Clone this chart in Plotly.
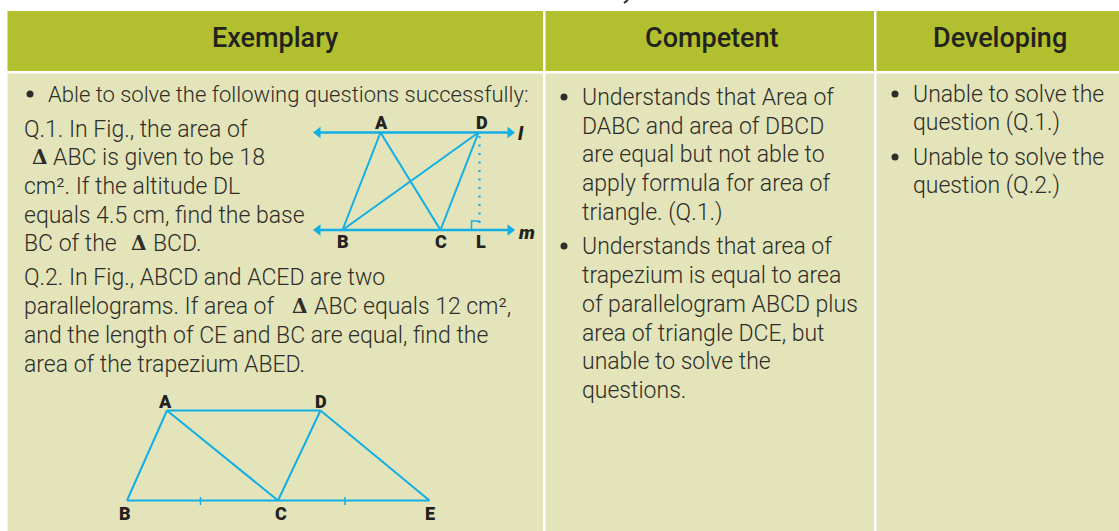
import plotly.graph_objects as go

WIDTH, HEIGHT = 1119, 531
HEADER_COLOR = "#B2C02F"
BODY_COLOR = "#E3E4B9"
TEXT_COLOR = "#2E2D29"
BLUE = "#12AEE6"
FONT = "Roboto"

# Table structure
col_edges = [(7.5, 543), (545.5, 874), (876.5, 1119)]
header_band = (11, 71)
body_band = (73.5, 531)
headers = ["Exemplary", "Competent", "Developing"]
header_centers = [275, 712, 1000]

# Table text: (text, left x, centre y)
col1_lines = [
    ("Able to solve the following questions successfully:", 46, 94),
    ("Q.1. In Fig., the area of", 22, 129),
    ("ABC is given to be 18", 51, 157),
    ("cm². If the altitude DL", 22, 186),
    ("equals 4.5 cm, find the base", 22, 215),
    ("BC of the", 22, 243),
    ("BCD.", 151, 243),
    ("Q.2. In Fig., ABCD and ACED are two", 22, 277),
    ("parallelograms. If area of", 22, 306),
    ("ABC equals 12 cm²,", 312, 306),
    ("and the length of CE and BC are equal, find the", 22, 335),
    ("area of the trapezium ABED.", 22, 364),
]
col2_lines = [
    ("Understands that Area of", 580, 97),
    ("DABC and area of DBCD", 580, 126),
    ("are equal but not able to", 580, 154),
    ("apply formula for area of", 580, 183),
    ("triangle. (Q.1.)", 580, 212),
    ("Understands that area of", 580, 246),
    ("trapezium is equal to area", 580, 275),
    ("of parallelogram ABCD plus", 580, 304),
    ("area of triangle DCE, but", 580, 333),
    ("unable to solve the", 580, 361),
    ("questions.", 580, 390),
]
col3_lines = [
    ("Unable to solve the", 911, 94),
    ("question (Q.1.)", 911, 122),
    ("Unable to solve the", 911, 157),
    ("question (Q.2.)", 911, 185),
]
bullets_x = [30, 564, 895, 564, 895]
bullets_y = [94, 97, 94, 246, 157]
delta_x = [30, 129, 290]
delta_y = [157, 243, 306]
top_speck_x = [628, 624]
top_speck_y = [0, 3]

# Figure 1 geometry
f1 = {"A": (380.5, 132.5), "D": (478.5, 132.5), "B": (342.5, 230), "C": (440.5, 230), "L": (479.5, 230)}
f1_line_ends = (315, 513)
f1_segments = [("A", "B"), ("A", "C"), ("D", "B"), ("D", "C")]
f1_labels = [("A", 381, 122), ("D", 482, 122), ("B", 343, 241), ("C", 441, 241), ("L", 481, 241)]
f1_italic = [("l", 521, 133), ("m", 526, 232)]
square_x = [471.5, 471.5, 479.5]
square_y = [230, 221, 221]

# Figure 2 geometry
f2 = {"A": (167, 410.5), "D": (320.5, 410.5), "B": (127, 500.5), "C": (278, 500.5), "E": (429.5, 500.5)}
f2_segments = [("B", "A"), ("A", "D"), ("D", "E"), ("E", "B"), ("A", "C"), ("C", "D")]
f2_ticks_x = [200.5, 345]
f2_ticks_y = (497, 505)
f2_labels = [("A", 165, 401), ("D", 321, 401), ("B", 125, 513), ("C", 281, 513), ("E", 430, 513)]

fig = go.Figure()
shapes = []
for x0, x1 in col_edges:
    shapes.append(dict(type="rect", x0=x0, x1=x1, y0=header_band[0], y1=header_band[1],
                       fillcolor=HEADER_COLOR, line_width=0, layer="below"))
    shapes.append(dict(type="rect", x0=x0, x1=x1, y0=body_band[0], y1=body_band[1],
                       fillcolor=BODY_COLOR, line_width=0, layer="below"))


def seg(xs, ys, width=2, dash="solid", color=BLUE):
    fig.add_trace(go.Scatter(x=xs, y=ys, mode="lines", hoverinfo="skip",
                             line=dict(color=color, width=width, dash=dash)))


for a, b in f1_segments:
    seg([f1[a][0], f1[b][0]], [f1[a][1], f1[b][1]])
seg([f1["D"][0] + 1, f1["L"][0]], [136, f1["L"][1]], width=2.2, dash="2px 6.5px")
seg(square_x, square_y, width=1.5)
seg(list(f1_line_ends), [f1["A"][1]] * 2, width=2.4)
seg(list(f1_line_ends), [f1["B"][1]] * 2, width=2.4)
for a, b in f2_segments:
    seg([f2[a][0], f2[b][0]], [f2[a][1], f2[b][1]])
for tx in f2_ticks_x:
    seg([tx, tx], list(f2_ticks_y), width=1.5)
seg(top_speck_x, top_speck_y, width=2, color=TEXT_COLOR)

# Arrow heads on lines l and m
arrow_y = [f1["A"][1], f1["A"][1], f1["B"][1], f1["B"][1]]
fig.add_trace(go.Scatter(x=[f1_line_ends[0] + 3, f1_line_ends[1] - 3] * 2, y=arrow_y, mode="markers", hoverinfo="skip",
                         marker=dict(symbol=["triangle-left", "triangle-right"] * 2, size=10, color=BLUE)))
# Bullets
fig.add_trace(go.Scatter(x=bullets_x, y=bullets_y, mode="markers", hoverinfo="skip",
                         marker=dict(size=7, color=TEXT_COLOR)))

ann = []
for t, cx in zip(headers, header_centers):
    ann.append(dict(x=cx, y=38, text=t, xanchor="center", yanchor="middle", showarrow=False,
                    font=dict(family=FONT, size=27, color="#23231E", weight=500)))
for line, x, y in col1_lines + col2_lines + col3_lines:
    size = 22 if line.startswith("Able") else 23
    ann.append(dict(x=x, y=y, text=line, xanchor="left", yanchor="middle", showarrow=False,
                    font=dict(family=FONT, size=size, color=TEXT_COLOR, weight=300)))
for x, y in zip(delta_x, delta_y):
    ann.append(dict(x=x, y=y, text="Δ", xanchor="left", yanchor="middle", showarrow=False,
                    font=dict(family="DejaVu Serif", size=20, color=TEXT_COLOR, weight=700)))
for t, x, y in f1_labels + f2_labels:
    ann.append(dict(x=x, y=y, text=t, xanchor="center", yanchor="middle", showarrow=False,
                    font=dict(family=FONT, size=18, color="#23231E", weight=900)))
for t, x, y in f1_italic:
    ann.append(dict(x=x, y=y, text=t, xanchor="center", yanchor="middle", showarrow=False,
                    font=dict(family=FONT, size=19, color="#23231E", weight=900, style="italic")))

fig.update_layout(
    width=WIDTH, height=HEIGHT, margin=dict(l=0, r=0, t=0, b=0),
    paper_bgcolor="white", plot_bgcolor="white", showlegend=False,
    xaxis=dict(range=[0, WIDTH], visible=False, fixedrange=True),
    yaxis=dict(range=[HEIGHT, 0], visible=False, fixedrange=True),
    shapes=shapes, annotations=ann,
)
fig.write_html("out.html", config={"displayModeBar": False},
               post_script="document.body.style.margin='0';document.body.style.overflow='hidden';")
